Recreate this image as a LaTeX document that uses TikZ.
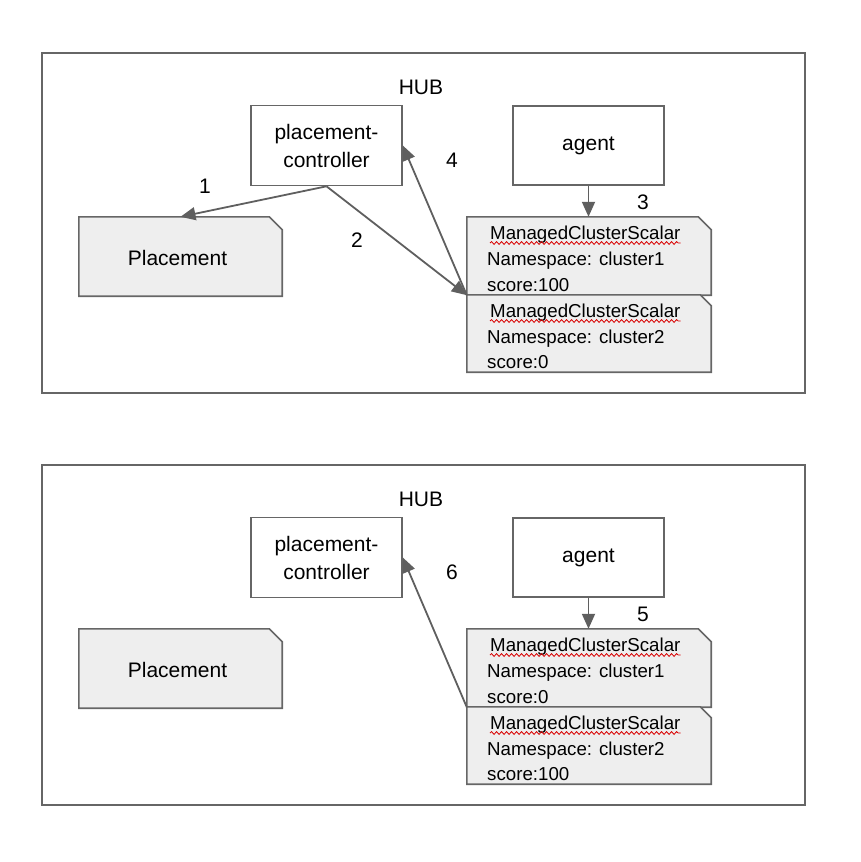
\documentclass[tikz,border=0pt]{standalone}
\usepackage{fontspec}
\setmainfont{Liberation Sans}
\usetikzlibrary{arrows.meta,decorations.pathmorphing}
\definecolor{edge}{HTML}{666666}
\definecolor{arr}{HTML}{5F5F5F}
\definecolor{docfill}{HTML}{EEEEEE}
\tikzset{
  frame/.style={draw=edge,line width=1.3pt},
  boxnode/.style={draw=edge,line width=1.6pt,fill=white,minimum width=151pt,minimum height=80pt,inner sep=0pt,align=center,font=\fontsize{21}{28}\selectfont},
  docnode/.style={inner sep=0pt},
  docshape/.style={draw=edge,line width=1.6pt,fill=docfill},
  bigtxt/.style={font=\fontsize{21}{25}\selectfont,inner sep=0pt},
  smalltxt/.style={font=\fontsize{18.7}{22}\selectfont,inner sep=0pt,anchor=base west},
  conn/.style={draw=arr,line width=1.8pt,-{Triangle[length=15pt,width=13pt]}},
  squig/.style={draw=red!85!black,line width=0.8pt,decorate,decoration={snake,segment length=5pt,amplitude=1.4pt}}
}
\begin{document}
\begin{tikzpicture}[x=1pt,y=-1pt]
\useasboundingbox (0,0) rectangle (860,862);
% ================= top panel =================
\node[frame,minimum width=763pt,minimum height=340pt,inner sep=0pt] (hubA) at (423.5,223) {};
\node[bigtxt] (hubAt) at (421,87) {HUB};
\node[boxnode] (pcA) at (326.5,145.5) {placement-\\controller};
\node[boxnode,minimum height=79pt] (agA) at (588.5,145.5) {agent};
\node[docnode,minimum width=203pt,minimum height=79pt] (plA) at (180.5,256.5) {};
\draw[docshape] (plA.north west) -- ([xshift=-13pt]plA.north east) -- ([yshift=-13pt]plA.north east) -- (plA.south east) -- (plA.south west) -- cycle;
\node[bigtxt] (plAt) at ([xshift=-3pt,yshift=-1pt]plA.center) {Placement};
\node[docnode,minimum width=244pt,minimum height=78pt] (mAa) at (589,256) {};
\draw[docshape] (mAa.north west) -- ([xshift=-13pt]mAa.north east) -- ([yshift=-13pt]mAa.north east) -- (mAa.south east) -- (mAa.south west) -- cycle;
\node[docnode,minimum width=244pt,minimum height=77pt] (mAb) at (589,333.5) {};
\draw[docshape] (mAb.north west) -- ([xshift=-11pt]mAb.north east) -- ([yshift=-11pt]mAb.north east) -- (mAb.south east) -- (mAb.south west) -- cycle;
\node[smalltxt] (tA1) at (490,239) {ManagedClusterScalar};
\node[smalltxt] (tA2) at (487,265) {Namespace: cluster1};
\node[smalltxt] (tA3) at (487,291) {score:100};
\node[smalltxt] (tA4) at (490,317) {ManagedClusterScalar};
\node[smalltxt] (tA5) at (487,343) {Namespace: cluster2};
\node[smalltxt] (tA6) at (487,368.5) {score:0};
\draw[squig] ([yshift=-4pt]tA1.base west) -- ([yshift=-4pt]tA1.base east);
\draw[squig] ([yshift=-4pt]tA4.base west) -- ([yshift=-4pt]tA4.base east);
\draw[conn] (pcA.south) -- (plA.north);
\draw[conn] (pcA.south) -- (mAa.south west);
\draw[conn] (mAa.south west) -- (pcA.east);
\draw[conn] (agA.south) -- (mAa.north -| agA.south);
\node[bigtxt] (nA1) at (205,186) {1};
\node[bigtxt] (nA2) at (357,240) {2};
\node[bigtxt] (nA3) at (643,202) {3};
\node[bigtxt] (nA4) at (452,160) {4};
% ================= bottom panel =================
\node[frame,minimum width=763pt,minimum height=340pt,inner sep=0pt] (hubB) at (423.5,635) {};
\node[bigtxt] (hubBt) at (421,499) {HUB};
\node[boxnode] (pcB) at (326.5,557.5) {placement-\\controller};
\node[boxnode,minimum height=79pt] (agB) at (588.5,557.5) {agent};
\node[docnode,minimum width=203pt,minimum height=79pt] (plB) at (180.5,668.5) {};
\draw[docshape] (plB.north west) -- ([xshift=-13pt]plB.north east) -- ([yshift=-13pt]plB.north east) -- (plB.south east) -- (plB.south west) -- cycle;
\node[bigtxt] (plBt) at ([xshift=-3pt,yshift=-1pt]plB.center) {Placement};
\node[docnode,minimum width=244pt,minimum height=78pt] (mBa) at (589,668) {};
\draw[docshape] (mBa.north west) -- ([xshift=-13pt]mBa.north east) -- ([yshift=-13pt]mBa.north east) -- (mBa.south east) -- (mBa.south west) -- cycle;
\node[docnode,minimum width=244pt,minimum height=77pt] (mBb) at (589,745.5) {};
\draw[docshape] (mBb.north west) -- ([xshift=-11pt]mBb.north east) -- ([yshift=-11pt]mBb.north east) -- (mBb.south east) -- (mBb.south west) -- cycle;
\node[smalltxt] (tB1) at (490,651) {ManagedClusterScalar};
\node[smalltxt] (tB2) at (487,677) {Namespace: cluster1};
\node[smalltxt] (tB3) at (487,703) {score:0};
\node[smalltxt] (tB4) at (490,729) {ManagedClusterScalar};
\node[smalltxt] (tB5) at (487,755) {Namespace: cluster2};
\node[smalltxt] (tB6) at (487,780.5) {score:100};
\draw[squig] ([yshift=-4pt]tB1.base west) -- ([yshift=-4pt]tB1.base east);
\draw[squig] ([yshift=-4pt]tB4.base west) -- ([yshift=-4pt]tB4.base east);
\draw[conn] (mBa.south west) -- (pcB.east);
\draw[conn] (agB.south) -- (mBa.north -| agB.south);
\node[bigtxt] (nB5) at (643,614) {5};
\node[bigtxt] (nB6) at (452,572) {6};
\end{tikzpicture}
\end{document}
